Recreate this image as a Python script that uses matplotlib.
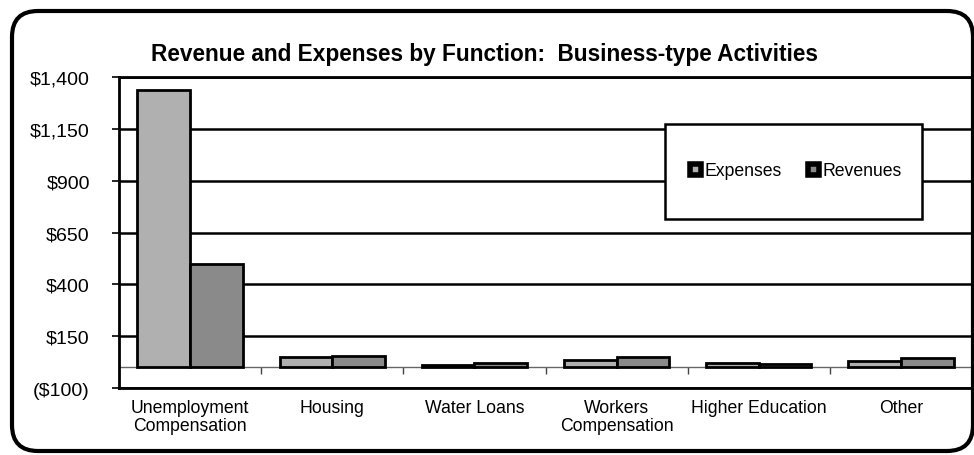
import numpy as np
import matplotlib
matplotlib.use('Agg')
from matplotlib import pyplot as plt
from matplotlib.patches import Patch, Rectangle, FancyBboxPatch

plt.rcParams['font.family'] = ['Liberation Sans', 'DejaVu Sans']

categories = ['Unemployment\nCompensation', 'Housing', 'Water Loans',
              'Workers\nCompensation', 'Higher Education', 'Other']
expenses = [1335, 50, 12, 33, 22, 30]
revenues = [500, 56, 20, 50, 14, 45]
yticks = [-100, 150, 400, 650, 900, 1150, 1400]
ytick_labels = ['($100)', '$150', '$400', '$650', '$900', '$1,150', '$1,400']

fig = plt.figure(figsize=(9.74, 4.56), dpi=100)
ax = fig.add_axes([119 / 974, 1 - 389 / 456, 853 / 974, 311 / 456])

x = np.arange(len(categories))
w = 0.37
ax.bar(x - w / 2, expenses, w, color='#b0b0b0', edgecolor='black', lw=2, zorder=3)
ax.bar(x + w / 2, revenues, w, color='#8a8a8a', edgecolor='black', lw=2, zorder=3)

ax.set_xlim(-0.5, len(categories) - 0.5)
ax.set_ylim(-100, 1400)
ax.set_yticks(yticks)
ax.set_yticklabels(ytick_labels, fontsize=14)
ax.tick_params(axis='y', length=5, width=1.2, pad=16, direction='out')
ax.yaxis.grid(True, color='black', lw=1.8, zorder=1)
ax.set_axisbelow(True)

ax.set_xticks(x)
ax.set_xticklabels(categories, fontsize=12.7, linespacing=1.05)
ax.tick_params(axis='x', length=0, pad=8)

for s in ax.spines.values():
    s.set_color('black')
    s.set_linewidth(2)

# category axis crossing at zero
zero_pos = (0 - yticks[0]) / (yticks[-1] - yticks[0])
sec = ax.secondary_xaxis(zero_pos)
sec.set_xticks(x[:-1] + 0.5)
sec.set_xticklabels([])
sec.tick_params(length=5, width=1, color='#444444', direction='out')
sec.spines['bottom'].set_color('#666666')
sec.spines['bottom'].set_linewidth(1)
sec.spines['top'].set_visible(False)

fig.text(0.497, 1 - 55 / 456, 'Revenue and Expenses by Function:  Business-type Activities',
         ha='center', va='center', fontsize=16.3, fontweight='bold')

# legend box
ax.add_patch(Rectangle((665 / 974, 1 - 220 / 456), 257 / 974, 95 / 456,
                       transform=fig.transFigure, facecolor='white',
                       edgecolor='black', lw=1.8, zorder=5, clip_on=False))
handles = [Patch(facecolor='#b0b0b0', edgecolor='black', lw=4),
           Patch(facecolor='#8a8a8a', edgecolor='black', lw=4)]
fig.legend(handles, ['Expenses', 'Revenues'], loc='center',
           bbox_to_anchor=(796 / 974, 1 - 172 / 456), ncol=2, frameon=False,
           fontsize=12.7, handlelength=0.6, handleheight=0.6, handletextpad=0.2,
           columnspacing=1.5)

# rounded outer frame
frame = FancyBboxPatch((12, 4), 961, 440, boxstyle='round,pad=0,rounding_size=26',
                       transform=None, facecolor='none', edgecolor='black', lw=3)
fig.patches.append(frame)

fig.savefig('out.png', dpi=100)
